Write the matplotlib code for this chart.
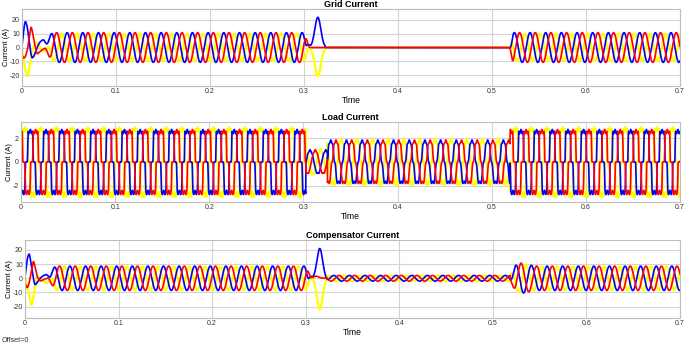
import numpy as np
import matplotlib
matplotlib.use("Agg")
import matplotlib.pyplot as plt

plt.rcParams['font.family'] = ['Liberation Sans', 'DejaVu Sans']
plt.rcParams['axes.unicode_minus'] = False

# ---- values ----
FREQ = 60.0            # Hz
T_END = 0.7
T_TRIP = 0.3065        # disconnection spike starts
T_ISLAND = 0.3225      # grid current is zero from here
T_RECON = 0.5185       # grid reconnected

phases = ["yellow", "blue", "red"]                      # drawing order
colors = {"yellow": "#ffff00", "blue": "#0000ff", "red": "#ff0000"}
widths = {"yellow": 1.6, "blue": 1.2, "red": 1.2}
shift_deg = {"blue": 0.0, "red": -120.0, "yellow": -240.0}

# start-up transient (first ~30 ms), same times for all phases
start_t = [0, 0.0015, 0.0035, 0.0057, 0.0075, 0.0095, 0.0107, 0.013, 0.016, 0.019, 0.023, 0.027]
grid_start = {
    "blue":   [0, 12, 20, 15, 5, -5, -8, -6, 0, 4, 6, 5],
    "yellow": [0, -8, -16, -22, -17, -8, -3, 3, 4, 0, -3, -5],
    "red":    [-5, -8, -7, -2, 6, 16, 13, 4, -5, -3, -1, 0],
}
comp_start_t = [0, 0.0015, 0.0028, 0.0046, 0.0071, 0.0089, 0.0105, 0.013, 0.016, 0.02, 0.024, 0.027]
comp_start = {
    "blue":   [0, 10, 15, 18, 8, 0, -5, -3, 0, 2, 3, 2],
    "yellow": [0, -3, -7, -12, -20, -14, -6, 2, 0, -2, -4, -5],
    "red":    [-3, -6, -7, -3, 6, 13, 9, 1, -2, -1, 0, 1],
}

# grid current
grid_amp = {"yellow": 10.0, "blue": 10.8, "red": 10.8}
grid_crest_pre = 0.048      # a blue crest before the trip
grid_crest_post = 0.5238    # first blue crest after reconnection
# transient bumps: (phase, time, height, width)
grid_bumps = [("blue", 0.3147, 22.0, 0.0032), ("yellow", 0.3147, -21.0, 0.0032),
              ("blue", 0.3040, 4.0, 0.0014)]

# compensator current
comp_amp = {"yellow": 8.3, "blue": 8.6, "red": 8.6}
comp_crest_pre = 0.048
comp_island_amp = 2.0
comp_crest_island = 0.330
comp_crest_post = 0.5246
comp_env_t = [0.5185, 0.524, 0.530, 0.545, 0.7]
comp_env = [0.2, 1.05, 1.25, 1.0, 1.0]
comp_bumps = [("blue", 0.3150, 21.0, 0.0030), ("yellow", 0.3150, -22.0, 0.0030),
              ("red", 0.3110, 1.5, 0.003), ("blue", 0.3045, 2.0, 0.0015)]

# load current: quasi-square, piecewise segments
load_seg_start = [0.0, 0.3025, 0.3255, 0.5195]
load_seg_amp = [2.55, 1.55, 1.75, 2.55]
load_seg_soft = [0.04, 0.6, 0.12, 0.04]
load_seg_crest = [0.0099, 0.3070, 0.3290, 0.5310]
load_ripple = 0.07
load_level = {"yellow": 1.07, "blue": 1.0, "red": 1.0}


def smoothstep(t, a, b):
    x = np.clip((t - a) / (b - a), 0, 1)
    return x * x * (3 - 2 * x)


def sine(t, amp, crest, ph):
    return amp * np.cos(2 * np.pi * FREQ * (t - crest) + np.radians(shift_deg[ph]))


def keycurve(t, kt, kv, sigma=0.0005):
    y = np.interp(t, kt, kv)
    dt = t[1] - t[0]
    n = int(4 * sigma / dt)
    k = np.exp(-0.5 * (np.arange(-n, n + 1) * dt / sigma) ** 2)
    k /= k.sum()
    yp = np.concatenate([np.full(n, y[0]), y, np.full(n, y[-1])])
    return np.convolve(yp, k, mode="valid")


def add_bumps(t, y, bumps, ph):
    for p, tc, h, w in bumps:
        if p == ph:
            y = y + h * np.exp(-0.5 * ((t - tc) / w) ** 2)
    return y


t = np.linspace(0, T_END, 35001)
blend = smoothstep(t, 0.022, 0.034)
taper = 1 - smoothstep(t, 0.2995, 0.3065)

grid = {}
comp = {}
load = {}
for ph in phases:
    # grid
    y = sine(t, grid_amp[ph], grid_crest_pre, ph)
    y = (1 - blend) * keycurve(t, start_t, grid_start[ph]) + blend * y
    y = y * taper
    y = add_bumps(t, y, grid_bumps, ph)
    post = sine(t, grid_amp[ph], grid_crest_post, ph) * smoothstep(t, T_RECON, T_RECON + 0.004)
    y = np.where(t >= T_ISLAND, 0.0, y)
    y = np.where(t >= T_RECON, post, y)
    grid[ph] = y

    # compensator
    y = sine(t, comp_amp[ph], comp_crest_pre, ph)
    y = (1 - blend) * keycurve(t, comp_start_t, comp_start[ph]) + blend * y
    y = y * taper
    y = add_bumps(t, y, comp_bumps, ph)
    isl = sine(t, comp_island_amp, comp_crest_island, ph) * smoothstep(t, 0.319, 0.325)
    y = np.where(t >= 0.316, y + isl, y)
    post = sine(t, comp_amp[ph], comp_crest_post, ph) * np.interp(t, comp_env_t, comp_env)
    y = np.where(t >= T_RECON, post, y)
    comp[ph] = y

    # load
    y = np.zeros_like(t)
    edges = load_seg_start + [T_END + 1]
    for i in range(len(load_seg_start)):
        th = 2 * np.pi * FREQ * (t - load_seg_crest[i]) + np.radians(shift_deg[ph])
        c = np.cos(th)
        eps = load_seg_soft[i]
        q = 1 / (1 + np.exp(-(c - 0.5) / eps)) - 1 / (1 + np.exp(-(-c - 0.5) / eps))
        q = q + load_ripple * np.cos(6 * th) * np.abs(q)
        m = (t >= edges[i]) & (t < edges[i + 1])
        y[m] = load_seg_amp[i] * load_level[ph] * q[m]
    load[ph] = y

fig = plt.figure(figsize=(6.85, 3.45), dpi=100)
W, H = 685.0, 345.0
panels = [
    ("Grid Current", grid, (22, 9, 680, 86), (-28, 28), [-20, -10, 0, 10, 20]),
    ("Load Current", load, (21, 122, 680, 202), (-3.35, 3.35), [-2, 0, 2]),
    ("Compensator Current", comp, (25, 240, 680, 318), (-28, 27), [-20, -10, 0, 10, 20]),
]
xt = [0, 0.1, 0.2, 0.3, 0.4, 0.5, 0.6, 0.7]
xtl = ["0", "0.1", "0.2", "0.3", "0.4", "0.5", "0.6", "0.7"]
for title, data, (x0, y0, x1, y1), ylim, yt in panels:
    ax = fig.add_axes([x0 / W, 1 - y1 / H, (x1 - x0) / W, (y1 - y0) / H])
    for ph in phases:
        ax.plot(t, data[ph], color=colors[ph], lw=widths[ph])
    ax.set_xlim(0, T_END)
    ax.set_ylim(*ylim)
    ax.set_xticks(xt)
    ax.set_xticklabels(xtl)
    ax.set_yticks(yt)
    ax.grid(True, color="#d4d4d4", lw=0.8)
    ax.set_axisbelow(True)
    for s in ax.spines.values():
        s.set_color("#bdbdbd")
        s.set_linewidth(0.8)
    ax.tick_params(labelsize=5.0, length=0, pad=1.5, colors="#333333")
    ax.set_title(title, fontsize=6.5, fontweight="bold", pad=1)
    ax.set_xlabel("Time", fontsize=6.2, labelpad=1)
    ax.set_ylabel("Current (A)", fontsize=5.5, labelpad=0)

fig.text(2 / W, 1 - 341 / H, "Offset=0", fontsize=5.2, va="center", color="#333333")
fig.savefig("out.png", dpi=100)
